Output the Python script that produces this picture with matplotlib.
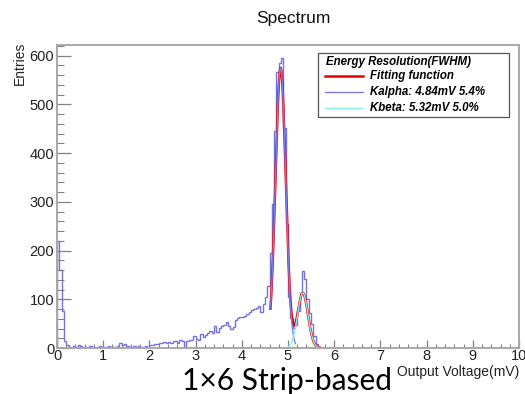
import numpy as np
import matplotlib
matplotlib.use("Agg")
import matplotlib.pyplot as plt
from matplotlib.ticker import MultipleLocator
from matplotlib.patches import Rectangle
from matplotlib.lines import Line2D

# Histogram: 0.05 mV bins from 0 to 10 mV (counts up to 5.70 mV, empty above)
bin_width = 0.05
counts_low = [
    220, 160, 75, 15, 6, 3, 2, 4, 2, 6,          # 0.00 - 0.45
    5, 2, 3, 2, 4, 3, 2, 3, 5, 2,                # 0.50 - 0.95
    3, 2, 4, 3, 2, 3, 4, 10, 6, 8,               # 1.00 - 1.45
    4, 3, 2, 4, 3, 5, 3, 2, 4, 3,                # 1.50 - 1.95
    7, 6, 9, 8, 11, 10, 12, 11, 13, 10,          # 2.00 - 2.45
    15, 14, 11, 16, 14, 3, 15, 17, 16, 25,       # 2.50 - 2.95
    18, 16, 28, 22, 26, 30, 34, 31, 45, 33,      # 3.00 - 3.45
    42, 46, 48, 53, 46, 40, 44, 58, 62, 63,      # 3.50 - 3.95
    64, 66, 70, 74, 78, 81, 83, 86, 74, 90,      # 4.00 - 4.45
    104, 128, 196, 296, 445, 567, 585, 595, 451, 255,  # 4.50 - 4.95
    105, 62, 42, 48, 75, 112, 158, 142, 100, 72,  # 5.00 - 5.45
    50, 24, 8, 2,                                 # 5.50 - 5.65
]
n_bins = 200
counts = np.zeros(n_bins)
counts[:len(counts_low)] = counts_low
edges = np.arange(n_bins + 1) * bin_width

# Gaussian fit results: peak height, mean (mV), FWHM resolution (%)
peak_names = ["Kalpha", "Kbeta"]
peak_heights = [575, 113]
peak_means = [4.84, 5.32]
peak_res = [5.4, 5.0]
fit_range = [4.62, 5.70]
comp_ranges = [[4.62, 5.16], [5.00, 5.70]]


def gauss(x, h, mu, res):
    sigma = mu * res / 100.0 / 2.3548
    return h * np.exp(-0.5 * ((x - mu) / sigma) ** 2)


fig = plt.figure(figsize=(5.25, 3.94), dpi=100)
W, H = 525, 394


def fx(px):
    return px / W


def fy(py):
    return 1 - py / H


ax = fig.add_axes([fx(57), fy(348), fx(519) - fx(57), fy(45) - fy(348)])

hist_color = "#7474dc"
red = "#e80000"
blue = "#7c7cec"
cyan = "#8cecec"

ax.stairs(counts, edges, color=hist_color, lw=1.0)

xf = np.linspace(fit_range[0], fit_range[1], 400)
total = sum(gauss(xf, h, m, r) for h, m, r in zip(peak_heights, peak_means, peak_res))
ax.plot(xf, total, color=red, lw=1.8)

comp_colors = [blue, cyan]
for (h, m, r), rng, c in zip(zip(peak_heights, peak_means, peak_res), comp_ranges, comp_colors):
    xc = np.linspace(rng[0], rng[1], 300)
    ax.plot(xc, gauss(xc, h, m, r), color=c, lw=1.0)

ax.set_xlim(0, 10)
ax.set_ylim(0, 622)

ax.xaxis.set_major_locator(MultipleLocator(1))
ax.xaxis.set_minor_locator(MultipleLocator(0.2))
ax.yaxis.set_major_locator(MultipleLocator(100))
ax.yaxis.set_minor_locator(MultipleLocator(20))

frame_col = "#a8a8a8"
for s in ax.spines.values():
    s.set_color(frame_col)
    s.set_linewidth(1.4)

ax.tick_params(axis="x", which="major", direction="in", length=6, width=0.9,
               color="#808080", labelsize=10.5, labelcolor="#222222", pad=1)
ax.tick_params(axis="x", which="minor", direction="in", length=3, width=0.8, color="#808080")
ax.tick_params(axis="y", which="major", direction="in", length=10, width=0.9,
               color="#808080", labelsize=10.5, labelcolor="#222222", pad=2)
ax.tick_params(axis="y", which="minor", direction="in", length=5, width=0.8, color="#808080")

for lab in ax.get_xticklabels() + ax.get_yticklabels():
    lab.set_fontfamily("Liberation Sans")

# Titles and axis labels
fig.text(fx(293), fy(18), "Spectrum", ha="center", va="center",
         fontsize=12.5, family="Liberation Sans", color="#111111")
fig.text(fx(20), fy(42), "Entries", rotation=90, ha="center", va="top",
         fontsize=10, family="Liberation Sans", color="#222222")
fig.text(fx(519), fy(372), "Output Voltage(mV)", ha="right", va="center",
         fontsize=10, family="Liberation Sans", color="#222222")
fig.text(fx(287), fy(390), "1×6 Strip-based", ha="center", va="baseline",
         fontsize=21.6, family="Lato", color="black")

# Legend box
fig.patches.append(Rectangle((fx(318), fy(117)), fx(509) - fx(318), fy(53) - fy(117),
                             transform=fig.transFigure, fill=True, facecolor="white",
                             edgecolor="#555555", lw=0.9, zorder=5))
leg_font = dict(fontsize=8.3, family="Liberation Sans", weight="bold", style="italic",
                color="black", va="center", zorder=6)
fig.text(fx(326), fy(62), "Energy Resolution(FWHM)", ha="left", **leg_font)
leg_labels = ["Fitting function"] + [
    f"{n}: {m:.2f}mV {r:.1f}%" for n, m, r in zip(peak_names, peak_means, peak_res)
]
leg_colors = [red, blue, cyan]
leg_widths = [1.8, 1.0, 1.0]
for i, (lab, c, lw) in enumerate(zip(leg_labels, leg_colors, leg_widths)):
    yy = 76 + 16 * i
    fig.lines.append(Line2D([fx(325), fx(363)], [fy(yy), fy(yy)], transform=fig.transFigure,
                            color=c, lw=lw, zorder=6))
    fig.text(fx(370), fy(yy), lab, ha="left", **leg_font)

fig.savefig("out.png", dpi=100)
